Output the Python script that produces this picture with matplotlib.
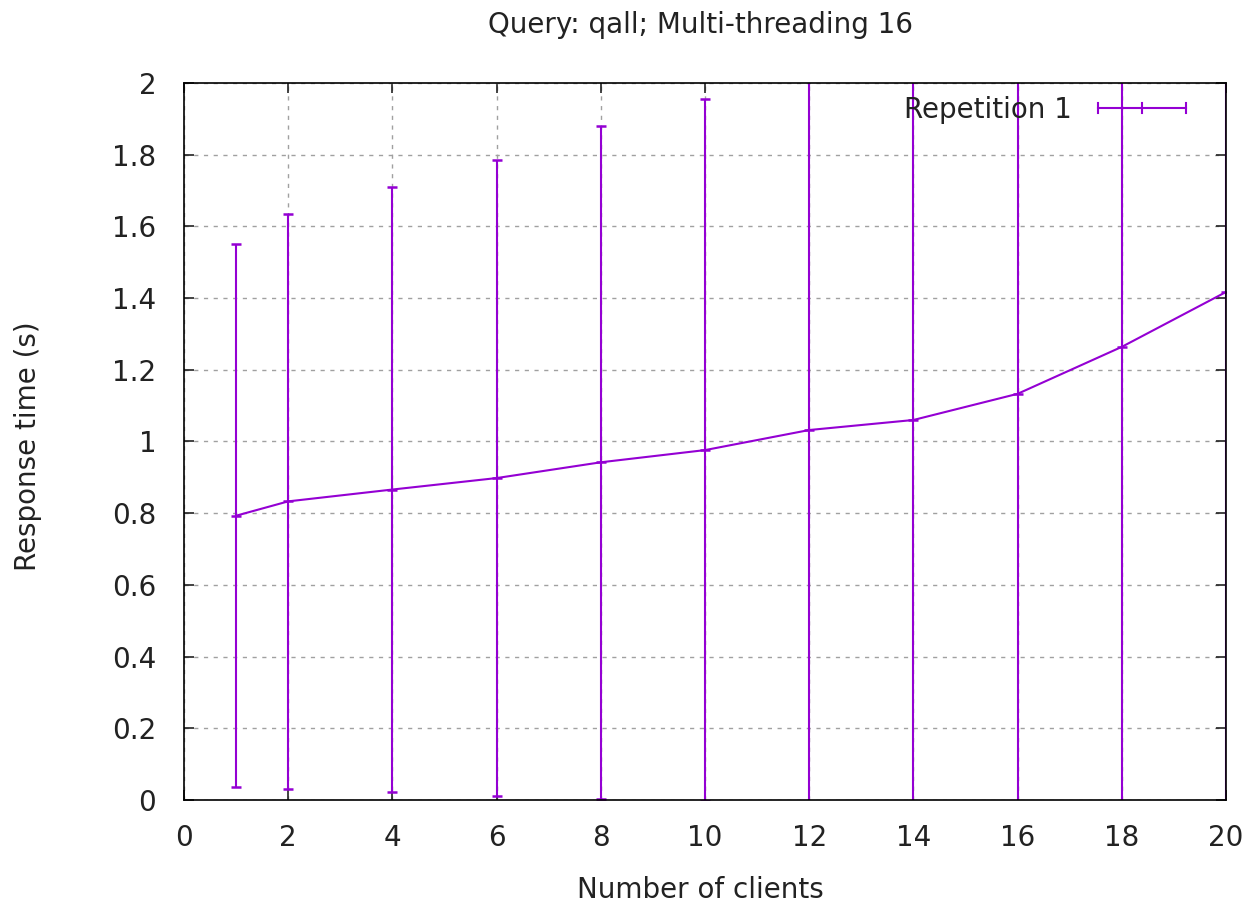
import matplotlib
matplotlib.use("Agg")
import matplotlib.pyplot as plt
from matplotlib.legend_handler import HandlerBase
from matplotlib.lines import Line2D

clients = [1, 2, 4, 6, 8, 10, 12, 14, 16, 18, 20]
response = [0.793, 0.833, 0.866, 0.898, 0.942, 0.976, 1.032, 1.060, 1.133, 1.264, 1.417]
errors = [0.757, 0.802, 0.845, 0.887, 0.938, 0.978, 1.10, 1.15, 1.25, 1.40, 1.55]

color = "#9400D3"
plt.rcParams['font.family'] = ['DejaVu Sans']
FS = 20
W, H = 1245, 906

fig = plt.figure(figsize=(W / 100, H / 100), dpi=100)
ax = fig.add_axes([184 / W, 1 - 800 / H, (1226 - 184) / W, (800 - 83) / H])

ax.errorbar(clients, response, yerr=errors, color=color, lw=1.5, elinewidth=1.5,
            capsize=3.6, capthick=1.5, marker='_', markersize=7, mew=1.8,
            label='Repetition 1')

ax.set_xlim(0, 20)
ax.set_ylim(0, 2)
ax.set_xticks(range(0, 21, 2))
ax.set_yticks([0, 0.2, 0.4, 0.6, 0.8, 1, 1.2, 1.4, 1.6, 1.8, 2])
ax.set_yticklabels(['0', '0.2', '0.4', '0.6', '0.8', '1', '1.2', '1.4', '1.6', '1.8', '2'])
ax.grid(True, color='#a0a0a0', linestyle=(0, (3, 4)), lw=1.0)
ax.tick_params(direction='in', length=7, width=1.2, top=True, right=True,
               labelsize=FS, colors='#222222')
ax.tick_params(axis='y', pad=20)
ax.tick_params(axis='x', pad=17)
for s in ax.spines.values():
    s.set_linewidth(1.2)

fig.text(700 / W, 1 - 25 / H, 'Query: qall; Multi-threading 16', fontsize=FS,
         ha='center', va='center', color='#222222')
fig.text(700 / W, 1 - 890 / H, 'Number of clients', fontsize=FS,
         ha='center', va='center', color='#222222')
fig.text(28 / W, 1 - 446 / H, 'Response time (s)', fontsize=FS, rotation=90,
         ha='center', va='center', color='#222222')


class ErrKeyHandler(HandlerBase):
    def create_artists(self, legend, orig_handle, xdescent, ydescent, width, height, fontsize, trans):
        y = height / 2 - ydescent
        x0, x1 = -xdescent, -xdescent + width
        xm = (x0 + x1) / 2
        h = 3.6
        arts = [Line2D([x0, x1], [y, y], color=color, lw=1.5)]
        for xx in (x0, xm, x1):
            arts.append(Line2D([xx, xx], [y - h, y + h], color=color, lw=1.5))
        for a in arts:
            a.set_transform(trans)
        return arts


handle = Line2D([], [], color=color)
leg = ax.legend([handle], ['Repetition 1'], handler_map={Line2D: ErrKeyHandler()},
                loc='center right', frameon=False, fontsize=FS, markerfirst=False,
                handlelength=63.4 / FS, handletextpad=18.7 / FS, borderaxespad=0,
                borderpad=0, bbox_to_anchor=(1186 / W, 1 - 110 / H),
                bbox_transform=fig.transFigure)
for t in leg.get_texts():
    t.set_color('#222222')

fig.savefig('out.png', dpi=100)
